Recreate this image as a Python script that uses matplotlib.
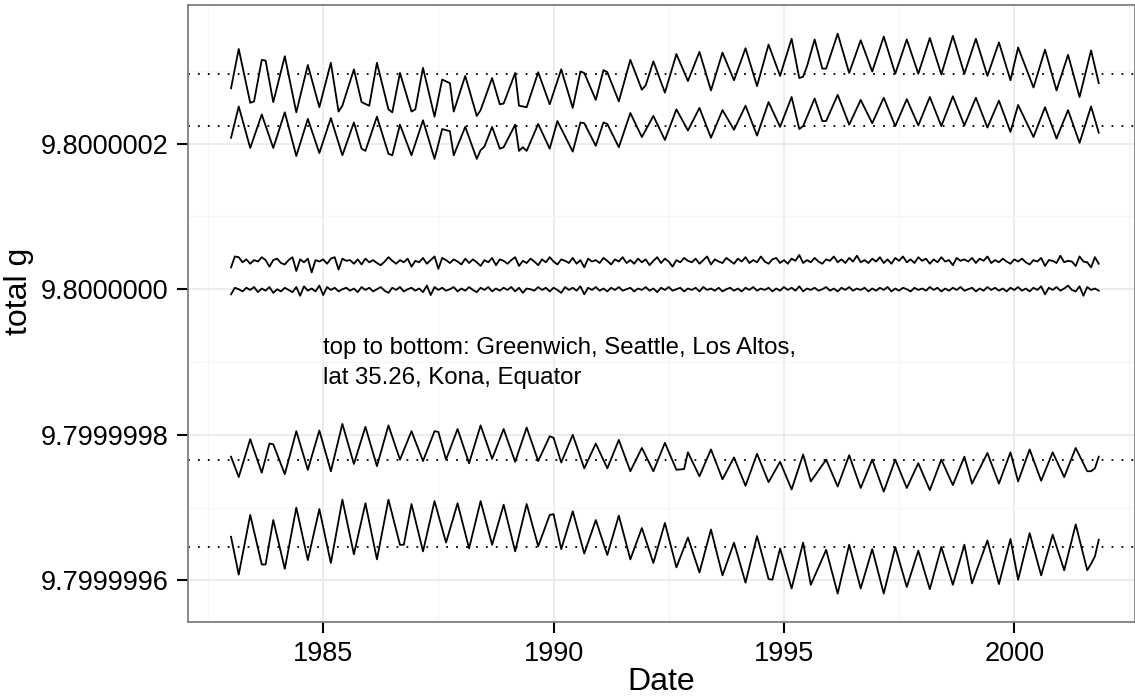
import numpy as np
import matplotlib
matplotlib.use("Agg")
import matplotlib.pyplot as plt
from matplotlib.ticker import FixedLocator, FuncFormatter

plt.rcParams['font.family'] = ['Liberation Sans', 'DejaVu Sans']

# g = 9.8 + value * 1e-9 ; months counted from Jan 1983
greenwich_m = [0, 2, 5, 6, 8, 9, 11, 14, 17, 20, 23, 26, 28, 29, 32, 34, 36, 38, 41, 42, 44, 47, 48,
               50, 53, 55, 57, 58, 61, 64, 65, 68, 70, 71, 74, 75, 77, 80, 83, 86, 89, 91, 92, 95,
               97, 98, 101, 104, 107, 108, 110, 113, 116, 119, 122, 125, 128, 131, 134, 137, 140,
               143, 146, 148, 149, 150, 152, 154, 155, 158, 161, 164, 167, 170, 173, 176, 179, 182,
               185, 188, 191, 194, 197, 200, 203, 205, 209, 212, 215, 218, 221, 224, 226]
greenwich_v = [276, 330, 256, 258, 315, 314, 257, 320, 243, 308, 250, 311, 244, 252, 302, 257, 252, 311,
               247, 243, 297, 244, 247, 304, 237, 288, 283, 244, 293, 238, 246, 290, 254, 255, 297,
               252, 250, 298, 254, 302, 249, 299, 297, 260, 301, 298, 258, 315, 274, 280, 313, 270,
               323, 286, 326, 273, 325, 287, 331, 279, 336, 293, 344, 290, 292, 306, 343, 303, 303,
               351, 297, 342, 299, 347, 296, 343, 296, 345, 295, 348, 296, 344, 293, 339, 287, 332,
               277, 329, 273, 322, 264, 328, 283]

seattle_m = [0, 2, 5, 8, 11, 14, 17, 20, 23, 26, 29, 32, 34, 35, 38, 41, 42, 44, 47, 50, 53, 55, 57,
             58, 61, 64, 65, 66, 68, 70, 71, 74, 75, 76, 77, 80, 83, 85, 89, 91, 92, 95, 97, 98, 101,
             104, 107, 110, 113, 116, 119, 122, 125, 128, 131, 134, 137, 140, 143, 146, 148, 149,
             152, 154, 155, 158, 161, 164, 167, 170, 173, 176, 179, 182, 185, 188, 191, 194, 197,
             200, 203, 205, 209, 212, 215, 218, 221, 224, 226]
seattle_v = [208, 251, 194, 240, 194, 243, 183, 234, 187, 235, 184, 229, 193, 190, 237, 186, 184, 226,
             184, 232, 179, 220, 217, 184, 223, 179, 191, 196, 223, 193, 195, 226, 190, 195, 190,
             227, 193, 231, 189, 229, 228, 197, 229, 227, 195, 242, 209, 238, 205, 247, 218, 249,
             208, 246, 219, 252, 211, 257, 223, 264, 220, 224, 262, 231, 231, 267, 226, 260, 228,
             263, 224, 261, 225, 264, 224, 265, 225, 263, 222, 259, 216, 253, 209, 250, 207, 246,
             201, 251, 215]

# monthly values, one row per year 1983..2001
los_altos = [30, 45, 44, 37, 41, 35, 40, 38, 44, 40, 31, 40,
             42, 36, 34, 40, 44, 25, 41, 37, 42, 23, 40, 38,
             41, 35, 42, 44, 27, 42, 39, 40, 35, 41, 34, 42,
             37, 40, 36, 33, 38, 44, 39, 35, 40, 37, 42, 31,
             39, 37, 43, 35, 40, 45, 28, 43, 40, 36, 41, 38,
             34, 42, 36, 41, 37, 32, 40, 37, 43, 33, 41, 39,
             35, 40, 44, 32, 39, 36, 42, 38, 33, 41, 37, 44,
             38, 34, 41, 39, 36, 43, 35, 40, 30, 42, 38, 40,
             36, 43, 39, 34, 41, 38, 44, 36, 40, 35, 42, 37,
             41, 33, 39, 44, 36, 42, 38, 31, 40, 37, 43, 39,
             37, 42, 35, 40, 45, 34, 41, 38, 36, 43, 39, 35,
             42, 38, 44, 36, 40, 37, 45, 38, 35, 41, 43, 36,
             40, 35, 42, 39, 47, 36, 40, 37, 43, 38, 35, 41,
             39, 45, 37, 41, 36, 43, 38, 46, 37, 40, 36, 42,
             38, 44, 36, 41, 35, 43, 39, 45, 37, 41, 36, 44,
             39, 42, 35, 41, 37, 44, 38, 40, 33, 43, 39, 41,
             38, 43, 36, 42, 39, 45, 36, 40, 37, 42, 38, 35,
             41, 38, 42, 37, 34, 40, 38, 43, 32, 40, 39, 36,
             46, 37, 39, 38, 32, 45, 38, 37, 30, 44, 35]

lat_3526 = [-7, 2, 0, -3, 2, -1, 3, -4, 1, -2, 3, -5,
            0, -3, 2, -1, -4, 3, -9, 4, -2, 1, -3, 5,
            -8, 3, -1, 2, -3, 0, 2, -2, 1, -4, 3, -1,
            2, -3, 0, 3, -2, -5, 2, -1, 3, -3, 0, 2,
            -2, 1, -4, 5, -8, 3, -1, 2, -2, 0, 3, -3,
            1, -2, 3, -1, -4, 2, -1, 3, -3, 1, -2, 2,
            -1, 3, -3, 2, -5, 1, 0, -2, 3, -1, 2, -3,
            2, -1, -5, 3, -1, 2, -2, 4, -7, 2, -1, 3,
            -2, 1, -3, 2, -1, 3, -2, 0, 2, -3, 1, -1,
            3, -2, 1, -4, 2, -1, 3, -2, 0, 2, -3, 1,
            -1, 2, -3, 3, -1, 1, -2, 2, -3, 0, 2, -2,
            1, -3, 2, -1, 3, -2, 1, -1, 2, -3, 1, -2,
            3, -1, 2, -2, 4, -3, 1, -1, 2, -2, 0, 3,
            -2, 1, -3, 2, -1, 3, -2, 1, -1, 2, -3, 1,
            -2, 2, -1, 3, -3, 1, -2, 2, 0, -3, 2, -1,
            1, -2, 3, -1, 2, -3, 1, -2, 2, -1, 3, -2,
            0, 2, -3, 1, -2, 3, -1, 2, -2, 1, -3, 2,
            -1, 3, -2, 1, -3, 2, -1, 4, -7, 2, -1, 3,
            -2, 1, 5, -1, -3, 4, -9, 3, -1, 1, -2]

kona_m = [0, 2, 5, 8, 10, 11, 14, 17, 20, 23, 26, 29, 32, 35, 38, 41, 44, 47, 50, 53, 54, 56, 59, 62,
          65, 68, 71, 74, 77, 80, 83, 84, 86, 89, 92, 95, 98, 101, 104, 107, 110, 113, 116, 118,
          119, 122, 125, 128, 131, 134, 137, 140, 143, 146, 149, 151, 155, 158, 161, 164, 167, 170,
          173, 176, 179, 182, 185, 188, 191, 193, 197, 200, 203, 205, 208, 211, 214, 217, 220,
          223, 224, 225, 226]
kona_v = [-230, -258, -206, -252, -212, -213, -254, -195, -248, -194, -250, -185, -240, -189, -243,
          -187, -234, -195, -236, -195, -196, -234, -192, -239, -187, -233, -192, -237, -190, -236,
          -202, -204, -238, -200, -246, -212, -246, -207, -250, -218, -250, -211, -248, -247, -224,
          -257, -220, -261, -231, -270, -226, -265, -237, -275, -227, -264, -234, -271, -228, -273,
          -234, -278, -234, -273, -239, -276, -234, -269, -230, -267, -225, -267, -224, -264, -220,
          -263, -224, -258, -218, -250, -250, -246, -230]

equator_m = [0, 2, 5, 8, 9, 11, 14, 17, 20, 23, 26, 29, 32, 35, 38, 41, 44, 45, 47, 50, 53, 56, 59,
             62, 65, 68, 71, 74, 77, 80, 83, 84, 86, 89, 92, 95, 98, 101, 104, 107, 110, 113, 116,
             119, 122, 125, 128, 131, 134, 137, 140, 141, 143, 146, 149, 151, 155, 158, 161, 164,
             167, 170, 173, 176, 179, 182, 185, 188, 191, 193, 197, 200, 203, 205, 208, 211, 214,
             217, 220, 223, 224, 225, 226]
equator_v = [-340, -392, -310, -378, -378, -317, -384, -300, -372, -302, -376, -289, -364, -294,
             -371, -289, -351, -351, -295, -360, -291, -348, -294, -356, -291, -351, -296, -360,
             -295, -353, -310, -309, -357, -305, -363, -317, -365, -311, -371, -328, -376, -321,
             -382, -341, -389, -330, -393, -348, -403, -339, -398, -399, -356, -411, -348, -406,
             -358, -418, -351, -411, -357, -418, -354, -409, -359, -412, -354, -406, -351, -404,
             -345, -405, -343, -399, -335, -393, -337, -386, -323, -386, -377, -367, -344]

# dotted reference levels
ref_levels = [295, 224, -234, -353.5]


def to_g(v):
    return 9.8 + np.asarray(v, dtype=float) * 1e-9


def to_year(m):
    return 1983 + np.asarray(m, dtype=float) / 12.0


fig = plt.figure(figsize=(11.35, 7.0), dpi=100)
ax = fig.add_axes([0.1654, 0.112, 0.8346, 0.881])

for lev in ref_levels:
    ax.axhline(9.8 + lev * 1e-9, color='black', lw=1.3, ls=(0, (1, 4.5)), zorder=2)

series = [(greenwich_m, greenwich_v), (seattle_m, seattle_v),
          (np.arange(len(los_altos)), los_altos), (np.arange(len(lat_3526)), lat_3526),
          (kona_m, kona_v), (equator_m, equator_v)]
for m, v in series:
    ax.plot(to_year(m), to_g(v), color='black', lw=1.3, zorder=3)

ax.text(1985, to_g(-101), 'top to bottom: Greenwich, Seattle, Los Altos,\nlat 35.26, Kona, Equator',
        fontsize=17.3, ha='left', va='center', linespacing=1.45)

ax.set_xlim(1982.06, 2002.62)
ax.set_ylim(to_g(-456.5), to_g(390.5))

yt = [-400, -200, 0, 200]
ax.yaxis.set_major_locator(FixedLocator(to_g(yt)))
ax.yaxis.set_minor_locator(FixedLocator(to_g([-300, -100, 100, 300])))
ax.yaxis.set_major_formatter(FuncFormatter(lambda y, p: '%.7f' % y))
ax.xaxis.set_major_locator(FixedLocator([1985, 1990, 1995, 2000]))
ax.xaxis.set_minor_locator(FixedLocator([1982.5, 1987.5, 1992.5, 1997.5, 2002.5]))
ax.xaxis.set_major_formatter(FuncFormatter(lambda x, p: '%d' % x))

ax.grid(which='major', color='#EBEBEB', lw=1.3, zorder=0)
ax.grid(which='minor', color='#F5F5F5', lw=1.0, zorder=0)
ax.set_axisbelow(True)
ax.tick_params(which='major', length=8, width=1.5, color='black', labelsize=19.5, pad=6)
ax.tick_params(which='minor', length=0)
for s in ax.spines.values():
    s.set_color('#7F7F7F')
    s.set_linewidth(1.3)

ax.set_xlabel('Date', fontsize=23, labelpad=0)
ax.set_ylabel('total g', fontsize=23)
ax.yaxis.set_label_coords(-0.1625, 0.535)

fig.savefig('out.png', dpi=100)
